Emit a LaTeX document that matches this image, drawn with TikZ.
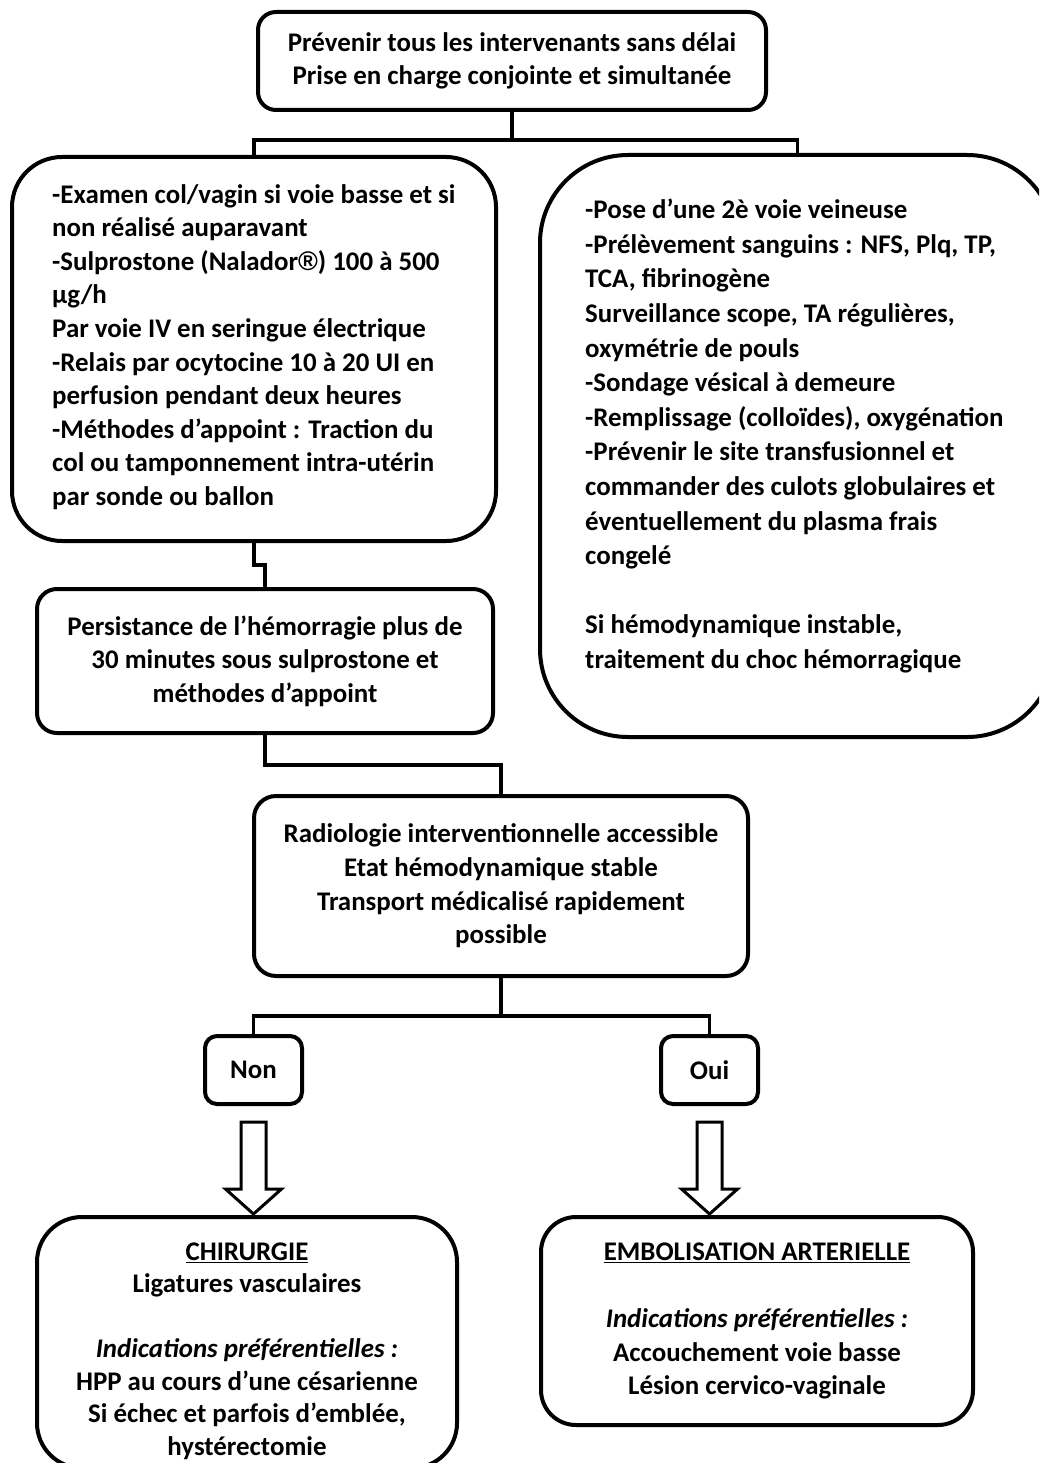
\documentclass[tikz,border=0pt]{standalone}
\usepackage{fontspec}
\setmainfont{Carlito}
\newfontfamily\regfont{Liberation Sans}
\usetikzlibrary{calc}
\begin{document}
\begin{tikzpicture}[x=1pt,y=-1pt,
  box/.style={draw=black, line width=4pt, rounded corners=#1, inner sep=0pt},
  txt/.style={font=\fontsize{26.9}{33.6}\selectfont\bfseries, inner sep=0pt},
  wire/.style={draw=black, line width=3.4pt},
  hollow/.style={draw=black, line width=3pt, fill=white, line join=miter}]
\useasboundingbox (0,0) rectangle (1039,1463);
\fill[white] (0,0) rectangle (1039,1463);
\begin{scope}
\clip (0,0) rectangle (1039,1463);

% boxes
\node[box=18pt, txt, align=center, minimum width=508pt, minimum height=98pt] (top) at (512,61)
  {Prévenir tous les intervenants sans délai\\Prise en charge conjointe et simultanée};

\node[box=50pt, minimum width=484pt, minimum height=384pt] (left) at (254,349) {};
\node[txt, align=left, anchor=west] (lefttxt) at (52,347)
  {-Examen col/vagin si voie basse et si\\
   non réalisé auparavant\\
   -Sulprostone (Nalador{\regfont\bfseries ®}) 100 à 500\\
   µg/h\\
   Par voie IV en seringue électrique\\
   -Relais par ocytocine 10 à 20 UI en\\
   perfusion pendant deux heures\\
   -Méthodes d’appoint : Traction du\\
   col ou tamponnement intra-utérin\\
   par sonde ou ballon};

\node[box=88pt, minimum width=515pt, minimum height=582pt] (right) at (797.5,446) {};
\node[txt, font=\fontsize{26.9}{34.6}\selectfont\bfseries, align=left, anchor=north west] (righttxt) at (585,199)
  {-Pose d’une 2è voie veineuse\\
   -Prélèvement sanguins : NFS, Plq, TP,\\
   TCA, fibrinogène\\
   Surveillance scope, TA régulières,\\
   oxymétrie de pouls\\
   -Sondage vésical à demeure\\
   -Remplissage (colloïdes), oxygénation\\
   -Prévenir le site transfusionnel et\\
   commander des culots globulaires et\\
   éventuellement du plasma frais\\
   congelé\\[34.6pt]
   Si hémodynamique instable,\\
   traitement du choc hémorragique};

\node[box=20pt, txt, align=center, minimum width=456pt, minimum height=144pt] (pers) at (265,661)
  {Persistance de l’hémorragie plus de\\30 minutes sous sulprostone et\\méthodes d’appoint};

\node[box=22pt, txt, align=center, minimum width=494pt, minimum height=180pt] (radio) at (501,886)
  {Radiologie interventionnelle accessible\\Etat hémodynamique stable\\Transport médicalisé rapidement\\possible};

\node[box=12pt, txt, minimum width=97pt, minimum height=68pt] (non) at (253.5,1070) {Non};
\node[box=12pt, txt, minimum width=97pt, minimum height=68pt] (oui) at (709.5,1070) {Oui};

\node[box=45pt, minimum width=420pt, minimum height=251pt] (chir) at (247,1342.5) {};
\node[txt, font=\fontsize{26.9}{32.5}\selectfont\bfseries, align=center] (chirtxt) at (247,1351)
  {\underline{CHIRURGIE}\\
   Ligatures vasculaires\\[32.5pt]
   {\itshape Indications préférentielles :}\\
   HPP au cours d’une césarienne\\
   Si échec et parfois d’emblée,\\
   hystérectomie};

\node[box=35pt, txt, align=center, minimum width=432pt, minimum height=208pt] (embo) at (757,1321)
  {\underline{EMBOLISATION ARTERIELLE}\\[33.6pt]
   {\itshape Indications préférentielles :}\\
   Accouchement voie basse\\
   Lésion cervico-vaginale};

% connectors
\coordinate (j1) at (512,140);
\draw[wire] (top.south) -- (j1);
\draw[wire] (left.north) |- (j1) -| (right.north);

\coordinate (j2) at (265,565);
\draw[wire] (left.south) |- (j2) -- (pers.north);

\coordinate (j3) at (501,765);
\draw[wire] (pers.south) |- (j3) -- (radio.north);

\coordinate (j4) at (501,1016);
\draw[wire] (radio.south) -- (j4);
\draw[wire] (non.north) |- (j4) -| (oui.north);

% hollow arrows
\draw[hollow] ($(non.south)+(-12.5,16)$) -- ++(25,0) -- ++(0,67) -- ++(15.5,0)
   -- ++(-28,25) -- ++(-28,-25) -- ++(15.5,0) -- cycle;
\draw[hollow] ($(oui.south)+(-12.5,16)$) -- ++(25,0) -- ++(0,67) -- ++(15.5,0)
   -- ++(-28,25) -- ++(-28,-25) -- ++(15.5,0) -- cycle;
\end{scope}
\end{tikzpicture}
\end{document}
